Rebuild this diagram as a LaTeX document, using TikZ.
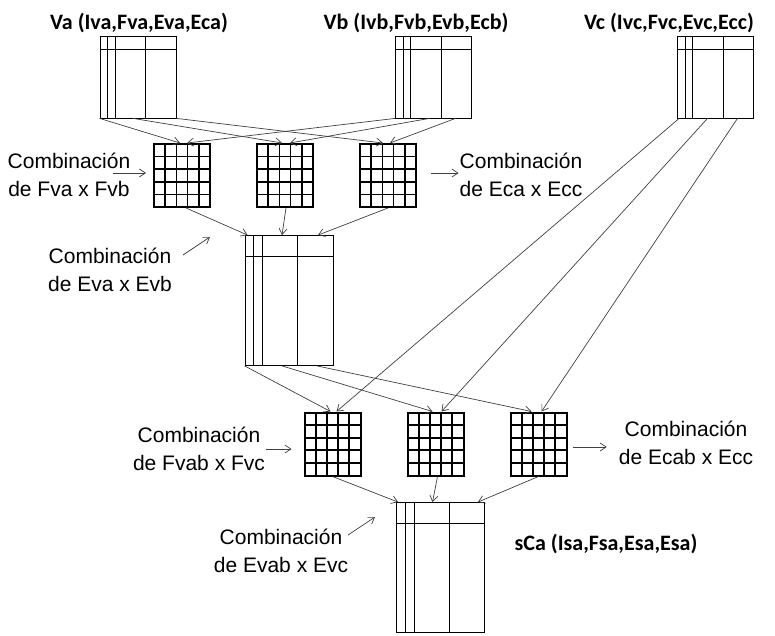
\documentclass[tikz,border=0pt]{standalone}
\usepackage{fontspec}
\usepackage{tikz}
\usetikzlibrary{arrows.meta, positioning, calc}
\newfontfamily\titfont{Carlito}
\newfontfamily\combfont{Liberation Sans}

\begin{document}
\begin{tikzpicture}[x=1pt, y=-1pt,
  tabla/.style={rectangle, draw, line width=0.8pt, inner sep=0pt,
    path picture={
      \foreach \p in {0.1,0.2,0.6}
        \draw[line width=0.8pt] ($(path picture bounding box.north west)!\p!(path picture bounding box.north east)$) -- ($(path picture bounding box.south west)!\p!(path picture bounding box.south east)$);
      \draw[line width=0.8pt] ($(path picture bounding box.north west)!0.16!(path picture bounding box.south west)$) -- ($(path picture bounding box.north east)!0.16!(path picture bounding box.south east)$);
    }},
  chica/.style={tabla, minimum width=76pt, minimum height=82pt},
  grande/.style={tabla, minimum width=88pt, minimum height=130pt},
  rejilla/.style={rectangle, draw, line width=2pt, inner sep=0pt, minimum width=56pt, minimum height=63pt,
    path picture={
      \foreach \p in {0.2,0.4,0.6,0.8} {
        \draw[line width=1.7pt] ($(path picture bounding box.north west)!\p!(path picture bounding box.north east)$) -- ($(path picture bounding box.south west)!\p!(path picture bounding box.south east)$);
        \draw[line width=1.7pt] ($(path picture bounding box.north west)!\p!(path picture bounding box.south west)$) -- ($(path picture bounding box.north east)!\p!(path picture bounding box.south east)$);
      }
    }},
  titulo/.style={font=\titfont\bfseries\fontsize{22}{26}\selectfont, anchor=base, inner sep=0pt},
  comb/.style={font=\combfont\fontsize{21}{28.5}\selectfont, align=center, inner sep=1pt},
  flecha/.style={-{Straight Barb[length=6pt,width=8pt]}, line width=0.7pt, black!75},
]
\useasboundingbox (0,0) rectangle (775,636);

% ── ENTRADAS: Va, Vb, Vc ──
\node[chica] (va) at (138,77) {};
\node[titulo] (va_t) at (139,30) {Va (Iva,Fva,Eva,Eca)};
\node[chica] (vb) at (433.5,77) {};
\node[titulo] (vb_t) at (416,30) {Vb (Ivb,Fvb,Evb,Ecb)};
\node[chica] (vc) at (715.5,77) {};
\node[titulo] (vc_t) at (669,30) {Vc (Ivc,Fvc,Evc,Ecc)};

% ── PRIMERA COMBINACION: Va x Vb ──
\node[rejilla] (g1) at (182,175.5) {};
\node[rejilla, right=45pt of g1] (g2) {};
\node[rejilla, right=45pt of g2] (g3) {};

\node[grande] (vab) at (289,300.5) {};

\node[comb] (cfv) at (69,175) {Combinación\\de Fva x Fvb};
\node[comb] (cec) at (521,175) {Combinación\\de Eca x Ecc};
\node[comb] (cev) at (110,270) {Combinación\\de Eva x Evb};

% ── SEGUNDA COMBINACION: Vab x Vc ──
\node[rejilla] (h1) at (332.5,444) {};
\node[rejilla, right=45pt of h1] (h2) {};
\node[rejilla, right=45pt of h2] (h3) {};

\node[grande] (sca) at (440.5,567.5) {};
\node[titulo] (sca_t) at (606,550) {sCa (Isa,Fsa,Esa,Esa)};

\node[comb] (cfvab) at (199,449) {Combinación\\de Fvab x Fvc};
\node[comb] (cecab) at (686,443) {Combinación\\de Ecab x Ecc};
\node[comb] (cevab) at (281,551) {Combinación\\de Evab x Evc};

% ── FLECHAS ──
% Va -> rejillas
\draw[flecha] (va.south west) -- ([xshift=-2pt]g1.north);
\draw[flecha] ([xshift=-5pt]va.south) -- ([xshift=-3pt]g2.north);
\draw[flecha] (va.south east) -- ([xshift=-5pt]g3.north);
% Vb -> rejillas
\draw[flecha] (vb.south west) -- ([xshift=5pt]g1.north);
\draw[flecha] ([xshift=-4pt]vb.south) -- ([xshift=5pt]g2.north);
\draw[flecha] ([xshift=22pt]vb.south) -- ([xshift=2pt]g3.north);
% rejillas -> Vab
\draw[flecha] ([xshift=4pt]g1.south) -- ([xshift=3pt]vab.north west);
\draw[flecha] ([xshift=1pt]g2.south) -- ([xshift=-7pt]vab.north);
\draw[flecha] (g3.south) -- ([xshift=29pt]vab.north);
% Vab -> rejillas
\draw[flecha] (vab.south west) -- ([xshift=-2pt]h1.north);
\draw[flecha] ([xshift=-7pt]vab.south) -- ([xshift=-3pt]h2.north);
\draw[flecha] ([xshift=28pt]vab.south) -- ([xshift=-7pt]h3.north);
% Vc -> rejillas
\draw[flecha] ([xshift=2pt]vc.south west) -- ([xshift=4pt]h1.north);
\draw[flecha] ([xshift=-8pt]vc.south) -- ([xshift=6pt]h2.north);
\draw[flecha] ([xshift=22pt]vc.south) -- ([xshift=3pt]h3.north);
% rejillas -> sCa
\draw[flecha] (h1.south) -- ([xshift=2pt]sca.north west);
\draw[flecha] ([xshift=2pt]h2.south) -- ([xshift=-8pt]sca.north);
\draw[flecha] (h3.south) -- ([xshift=-7pt]sca.north east);

% rotulos
\coordinate (cfv_a) at (113,173);
\draw[flecha, shorten >=7pt] (cfv_a) -- (cfv_a -| g1.west);
\draw[flecha, shorten <=14pt] (g3.east |- cfv_a) -- (cfv_a -| cec.west);
\coordinate (cev_a) at (183,255);
\coordinate (cev_b) at (210,237);
\draw[flecha] (cev_a) -- (cev_b);
\draw[flecha, shorten >=12pt] (cfvab.east) -- (cfvab.east -| h1.west);
\coordinate (cecab_a) at (573,447);
\draw[flecha, shorten >=11pt] (cecab_a) -- (cecab_a -| cecab.west);
\coordinate (cevab_a) at (348,535);
\coordinate (cevab_b) at (375,517);
\draw[flecha] (cevab_a) -- (cevab_b);

\end{tikzpicture}
\end{document}
